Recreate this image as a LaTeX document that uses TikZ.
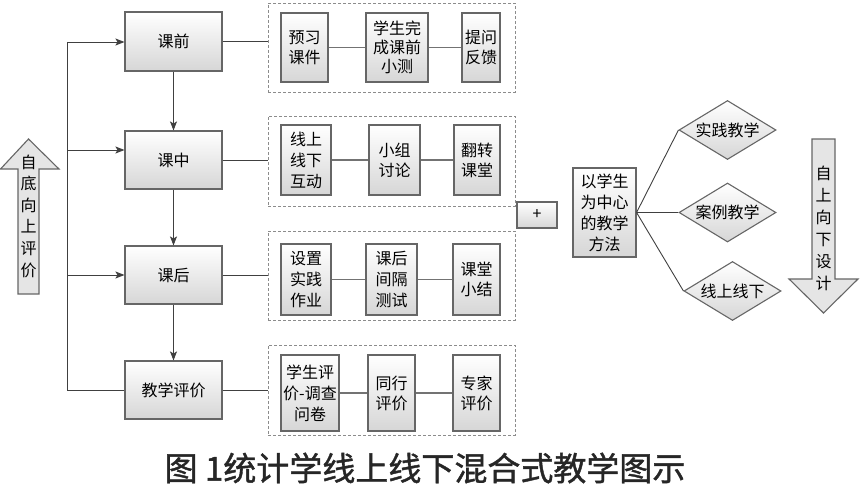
\documentclass[tikz,border=0pt]{standalone}
\usepackage{fontspec}
\setmainfont{Noto Sans CJK SC}
\newfontfamily\capfont[FakeBold=1.2]{Noto Sans CJK SC}
\usetikzlibrary{arrows.meta,shapes.geometric}

\begin{document}
\begin{tikzpicture}[x=1pt,y=-1pt]

		\tikzset{line/.style={draw=black!75,line width=0.9pt}}
		\tikzset{arrow/.style={line,-{Stealth[length=9pt,width=7pt,inset=2pt]}}}
		\tikzset{link/.style={draw=black!55,line width=1.4pt}}
		\tikzset{box/.style={draw=black!60,line width=1.1pt,top color=white,bottom color=black!16,inner sep=0pt,align=center,font=\fontsize{16}{20}\selectfont}}
		\tikzset{group/.style={draw=black!45,dash pattern=on 3pt off 2pt,line width=0.7pt,inner sep=0pt}}
		\tikzset{diam/.style={box,diamond,aspect=1.64,minimum width=97pt,minimum height=59pt}}
		\tikzset{bigarrow/.style={draw=black!60,line width=1.1pt,fill=black!10}}
		\tikzset{vtext/.style={align=center,inner sep=0pt}}

		\useasboundingbox (0,0) rectangle (864,487);

		% Stages.
		\node[box,minimum width=97pt,minimum height=59pt] (kq) at (173.5,41.5) {课前};
		\node[box,minimum width=97pt,minimum height=58pt] (kz) at (173.5,160) {课中};
		\node[box,minimum width=97pt,minimum height=58pt] (kh) at (173.5,275) {课后};
		\node[box,minimum width=97pt,minimum height=58pt] (pj) at (173.5,390) {教学评价};

		\path[arrow] (kq) to (kz);
		\path[arrow] (kz) to (kh);
		\path[arrow] (kh) to (pj);

		\coordinate (s1) at (67,42);
		\coordinate (s2) at (67,150);
		\coordinate (s3) at (67,275);

		\draw[line] (s1) |- (pj.west);
		\path[arrow] (s1) to (s1 -| kq.west);
		\path[arrow] (s2) to (s2 -| kz.west);
		\path[arrow] (s3) to (s3 -| kh.west);

		% Groups.
		\node[group,minimum width=247pt,minimum height=89pt] (g1) at (391.5,47.5) {};
		\node[group,minimum width=247pt,minimum height=90pt] (g2) at (391.5,161) {};
		\node[group,minimum width=247pt,minimum height=89pt] (g3) at (391.5,275.5) {};
		\node[group,minimum width=247pt,minimum height=90pt] (g4) at (391.5,390) {};

		\path[line] (kq.east) to (kq.east -| g1.west);
		\path[line] (kz.east) to (kz.east -| g2.west);
		\path[line] (kh.east) to (kh.east -| g3.west);
		\path[line] (pj.east) to (pj.east -| g4.west);

		\node[box,minimum width=47pt,minimum height=69pt] (a1) at (304.5,47.5) {预习\\课件};
		\node[box,minimum width=62pt,minimum height=69pt,font=\fontsize{16}{19}\selectfont] (a2) at (397,47.5) {学生完\\成课前\\小测};
		\node[box,minimum width=38pt,minimum height=69pt] (a3) at (481,47.5) {提问\\反馈};

		\node[box,minimum width=50pt,minimum height=70pt,font=\fontsize{16}{21}\selectfont] (b1) at (306,160) {线上\\线下\\互动};
		\node[box,minimum width=51pt,minimum height=70pt] (b2) at (394.5,160) {小组\\讨论};
		\node[box,minimum width=46pt,minimum height=70pt] (b3) at (477,160) {翻转\\课堂};

		\node[box,minimum width=50pt,minimum height=71pt,font=\fontsize{16}{21}\selectfont] (c1) at (306,279.5) {设置\\实践\\作业};
		\node[box,minimum width=51pt,minimum height=71pt,font=\fontsize{16}{21}\selectfont] (c2) at (391.5,279.5) {课后\\间隔\\测试};
		\node[box,minimum width=47pt,minimum height=71pt] (c3) at (476.5,279.5) {课堂\\小结};

		\node[box,minimum width=58pt,minimum height=76pt,font=\fontsize{16}{21}\selectfont] (d1) at (310,393) {学生评\\价-调查\\问卷};
		\node[box,minimum width=47pt,minimum height=76pt] (d2) at (391.5,393) {同行\\评价};
		\node[box,minimum width=47pt,minimum height=76pt] (d3) at (476.5,393) {专家\\评价};

		\path[link] (a1) to (a2);
		\path[link] (a2) to (a3);
		\path[link] (b1) to (b2);
		\path[link] (b2) to (b3);
		\path[link] (c1) to (c2);
		\path[link] (c2) to (c3);
		\path[link] (d1) to (d2);
		\path[link] (d2) to (d3);

		% Methods.
		\node[box,minimum width=40pt,minimum height=26pt] (plus) at (537,215) {+};
		\node[box,minimum width=63pt,minimum height=89pt,font=\fontsize{16}{21}\selectfont] (fa) at (604.5,212.5) {以学生\\为中心\\的教学\\方法};

		\node[diam] (sj) at (727.5,130) {实践教学};
		\node[diam] (al) at (727.5,212.5) {案例教学};
		\node[diam] (xs) at (732.5,291) {线上线下};

		\path[line] (fa.east) to (sj.west);
		\path[line] (fa.east) to (al.west);
		\path[line] (fa.east) to (xs.west);

		% Big arrows.
		\draw[bigarrow] (28.5,139) -- (59,169) -- (39,169) -- (39,294) -- (18,294) -- (18,169) -- (0.5,169) -- cycle;
		\node[vtext,font=\fontsize{16}{21.6}\selectfont] (up) at (28.5,216) {自\\底\\向\\上\\评\\价};

		\draw[bigarrow] (812,139) -- (835,139) -- (835,279) -- (858,279) -- (823.5,313) -- (789,279) -- (812,279) -- cycle;
		\node[vtext,font=\fontsize{16}{22}\selectfont] (down) at (823.5,228) {自\\上\\向\\下\\设\\计};

		\node[font=\capfont\fontsize{33}{33}\selectfont,text=black!85] (cap) at (425,468) {图 1统计学线上线下混合式教学图示};

\end{tikzpicture}
\end{document}
